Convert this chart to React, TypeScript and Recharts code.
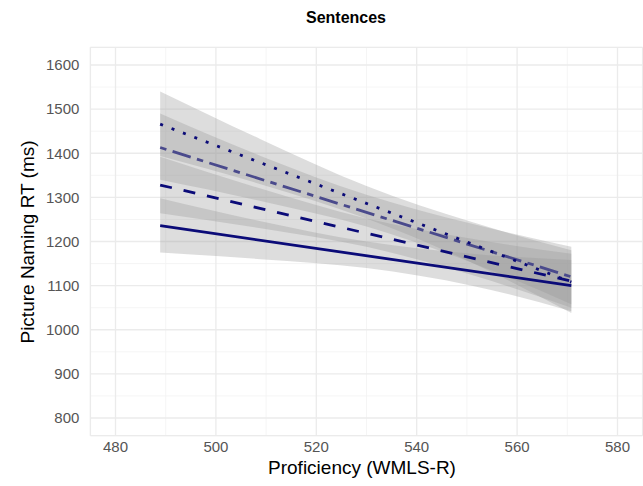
import React from "react";
import {
  ComposedChart,
  Area,
  Line,
  XAxis,
  YAxis,
  CartesianGrid,
} from "recharts";

const bandX = [488.9, 508.9, 530, 551, 570.8];

// confidence bands (lower / upper), one pair per line
const solidLo = [1175, 1160, 1140, 1100, 1042];
const solidHi = [1298, 1246, 1200, 1172, 1158];
const dashedLo = [1264, 1230, 1188, 1124, 1050];
const dashedHi = [1392, 1320, 1252, 1206, 1172];
const dashDotLo = [1340, 1292, 1234, 1152, 1058];
const dashDotHi = [1490, 1394, 1306, 1240, 1188];
const dottedLo = [1394, 1330, 1252, 1152, 1038];
const dottedHi = [1540, 1432, 1326, 1244, 1180];

// fitted lines: value at first and last x
const solidEnds = [1236, 1100];
const dashedEnds = [1328, 1110];
const dashDotEnds = [1413, 1120];
const dottedEnds = [1466, 1108];

const xTicks = [480, 500, 520, 540, 560, 580];
const xMinor = [490, 510, 530, 550, 570];
const yTicks = [800, 900, 1000, 1100, 1200, 1300, 1400, 1500, 1600];
const yMinor = [850, 950, 1050, 1150, 1250, 1350, 1450, 1550];

const last = bandX.length - 1;
const ends = (arr: number[], i: number) =>
  i === 0 ? arr[0] : i === last ? arr[1] : null;

const data = bandX.map((x, i) => ({
  x,
  solidBand: [solidLo[i], solidHi[i]],
  dashedBand: [dashedLo[i], dashedHi[i]],
  dashDotBand: [dashDotLo[i], dashDotHi[i]],
  dottedBand: [dottedLo[i], dottedHi[i]],
  solid: ends(solidEnds, i),
  dashed: ends(dashedEnds, i),
  dashDot: ends(dashDotEnds, i),
  dotted: ends(dottedEnds, i),
}));

const font = '"Liberation Sans", Arial, Helvetica, sans-serif';
const tickStyle = { fill: "#555", fontSize: 15, fontFamily: font };
const bandFill = "#999999";
const bandOpacity = 0.33;
const xDomain = [475, 585];
const yDomain = [760, 1640];

export default function App() {
  return (
    <div
      style={{
        position: "absolute",
        left: 0,
        top: 0,
        width: 643,
        height: 486,
        overflow: "hidden",
        background: "#fff",
        fontFamily: font,
      }}
    >
      <div
        style={{
          position: "absolute",
          left: 346,
          top: 8,
          transform: "translateX(-50%)",
          fontSize: 16,
          fontWeight: "bold",
          lineHeight: "20px",
          whiteSpace: "nowrap",
        }}
      >
        Sentences
      </div>
      <ComposedChart
        width={660}
        height={486}
        data={data}
        margin={{ top: 47.35, right: 17.4, bottom: 20.35, left: 30.4 }}
      >
        {/* minor grid on hidden axes, then major grid */}
        <CartesianGrid xAxisId="minor" yAxisId="minor" stroke="#f3f3f3" strokeWidth={0.8} />
        <CartesianGrid stroke="#ebebeb" strokeWidth={1.3} />
        <XAxis
          xAxisId="minor"
          dataKey="x"
          type="number"
          domain={xDomain}
          ticks={xMinor}
          hide
          allowDataOverflow
        />
        <YAxis
          yAxisId="minor"
          type="number"
          domain={yDomain}
          ticks={yMinor}
          hide
          allowDataOverflow
        />
        <XAxis
          dataKey="x"
          type="number"
          domain={xDomain}
          ticks={xTicks}
          axisLine={false}
          tickLine={false}
          tickSize={0}
          tickMargin={6}
          height={30}
          tick={tickStyle}
          allowDataOverflow
        />
        <YAxis
          type="number"
          domain={yDomain}
          ticks={yTicks}
          axisLine={false}
          tickLine={false}
          tickSize={0}
          tickMargin={11}
          width={60}
          tick={tickStyle}
          allowDataOverflow
        />
        <Area type="monotone" dataKey="dottedBand" stroke="none" fill={bandFill} fillOpacity={bandOpacity} isAnimationActive={false} />
        <Area type="monotone" dataKey="dashDotBand" stroke="none" fill={bandFill} fillOpacity={bandOpacity} isAnimationActive={false} />
        <Area type="monotone" dataKey="dashedBand" stroke="none" fill={bandFill} fillOpacity={bandOpacity} isAnimationActive={false} />
        <Area type="monotone" dataKey="solidBand" stroke="none" fill={bandFill} fillOpacity={bandOpacity} isAnimationActive={false} />
        <Line dataKey="solid" stroke="#0b0b78" strokeWidth={2.8} dot={false} connectNulls isAnimationActive={false} />
        <Line dataKey="dashed" stroke="#0b0b78" strokeWidth={2.8} strokeDasharray="12 12" dot={false} connectNulls isAnimationActive={false} />
        <Line dataKey="dashDot" stroke="#4a4a8c" strokeWidth={2.8} strokeDasharray="6.5 6.5 19 6.5" dot={false} connectNulls isAnimationActive={false} />
        <Line dataKey="dotted" stroke="#0b0b78" strokeWidth={2.8} strokeDasharray="3 9.2" dot={false} connectNulls isAnimationActive={false} />
      </ComposedChart>
      <div
        style={{
          position: "absolute",
          left: 362,
          top: 457,
          transform: "translateX(-50%)",
          fontSize: 19,
          lineHeight: "22px",
          whiteSpace: "nowrap",
        }}
      >
        Proficiency (WMLS-R)
      </div>
      <div
        style={{
          position: "absolute",
          left: 28,
          top: 242,
          transform: "translate(-50%, -50%) rotate(-90deg)",
          fontSize: 19,
          lineHeight: "22px",
          whiteSpace: "nowrap",
        }}
      >
        Picture Naming RT (ms)
      </div>
    </div>
  );
}
